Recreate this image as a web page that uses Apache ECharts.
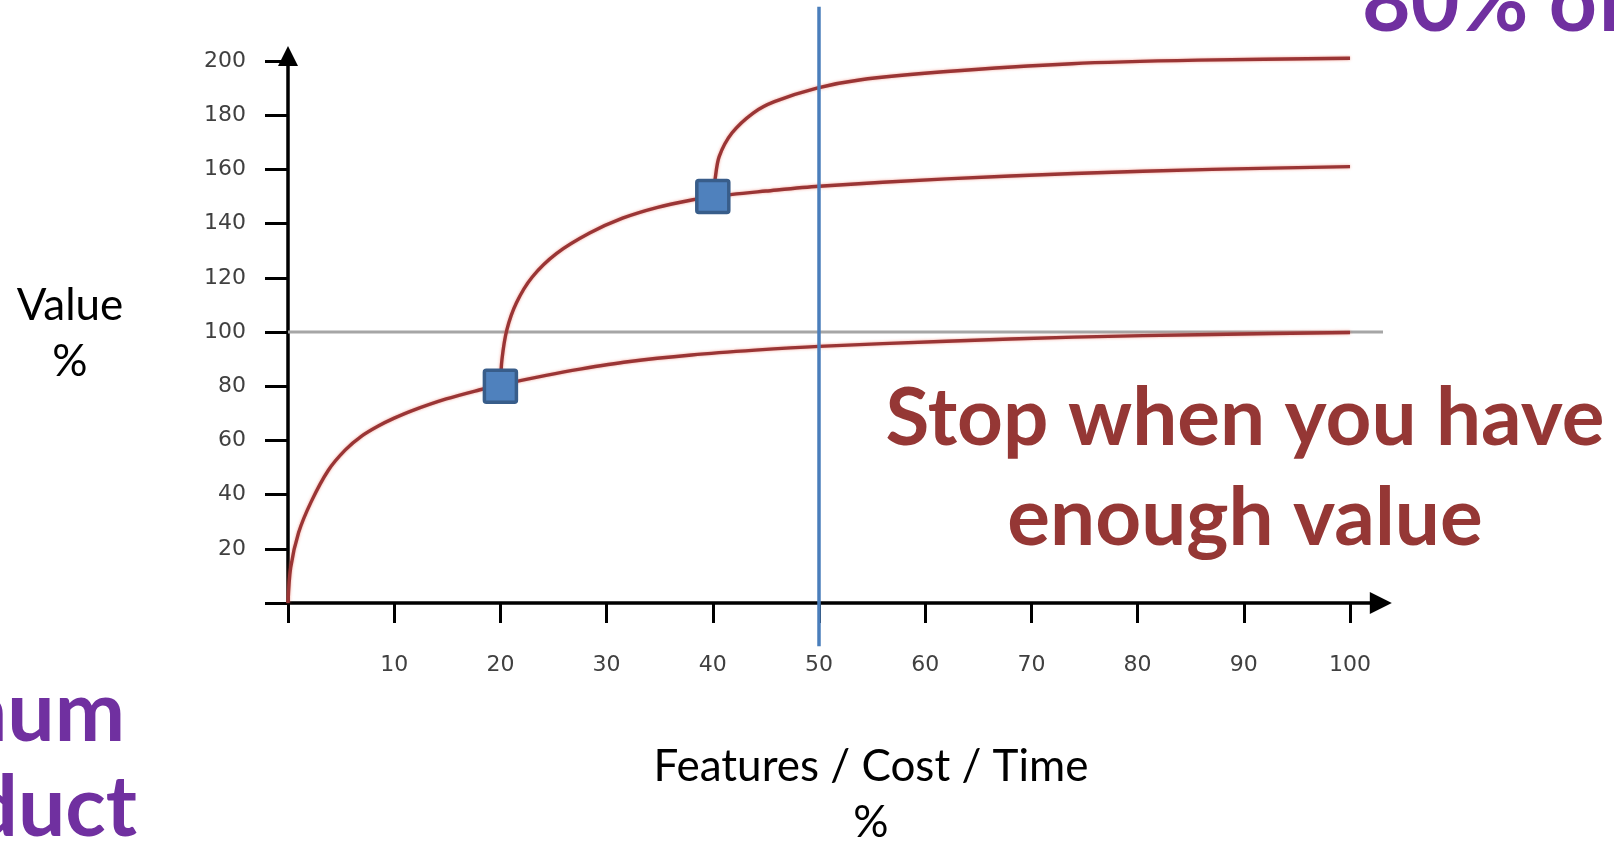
<!DOCTYPE html>
<html>
<head>
<meta charset="utf-8">
<script src="https://cdn.jsdelivr.net/npm/echarts@6/dist/echarts.min.js"></script>
<style>
html,body{margin:0;padding:0;background:#fff;}
#chart{width:1614px;height:841px;}
</style>
</head>
<body>
<div id="chart"></div>
<script>
// ---- data ----
const xTickValues = [0, 10, 20, 30, 40, 50, 60, 70, 80, 90, 100];
const xLabelValues = [10, 20, 30, 40, 50, 60, 70, 80, 90, 100];
const yTickValues = [0, 20, 40, 60, 80, 100, 120, 140, 160, 180, 200];
const yLabelValues = [20, 40, 60, 80, 100, 120, 140, 160, 180, 200];

const baseX = [0, 0.25, 1, 2.2, 3.8, 5.4, 6.9, 8.5, 10, 11.7, 14.9, 18, 20, 24.3, 27.5, 32, 38, 44, 50, 62, 74, 87, 100];
const baseY = [0, 13, 26, 37.5, 49, 56.5, 61.5, 65.3, 68.2, 71, 75.3, 78.6, 80.5, 84, 86.3, 89, 91.5, 93.3, 94.7, 96.6, 98.1, 99.1, 99.8];

const midX = [20, 20.15, 20.6, 21.5, 23, 25.3, 28.4, 31.5, 34.8, 38, 40, 45, 50, 62, 74, 87, 100];
const midY = [80.5, 90, 100.7, 110.7, 120.3, 129, 136.5, 142, 146, 148.7, 150, 152, 153.8, 156.5, 158.5, 160, 161];

const topX = [40, 40.2, 40.6, 41.8, 43.8, 45.8, 49.8, 53.8, 61.7, 73.8, 85.7, 100];
const topY = [150, 156, 164.7, 173.4, 180.8, 185, 190, 193, 196, 199, 200.3, 201];

const markerX = [20, 40];
const markerY = [80, 150];

const goalValue = 100;          // grey horizontal line
const goalLineX = [0, 104.3];
const cutoffX = 50;             // blue vertical line
const cutoffY = [220, -16];

const yTitle = ['Value', '%'];
const xTitle = ['Features / Cost / Time', '%'];
const noteLines = ['Stop when you have', 'enough value'];
const leftLines = ['Minimum', 'Viable Product'];
const topRightText = '80% of';

// ---- build ----
const zip = (xs, ys) => xs.map((x, i) => [x, ys[i]]);
const curveStyle = {
  color: '#9a3535', width: 3.4,
  shadowColor: 'rgba(235,100,80,0.6)', shadowBlur: 3
};
const markerPath = 'path://M2,0 L30,0 Q32,0 32,2 L32,30 Q32,32 30,32 L2,32 Q0,32 0,30 L0,2 Q0,0 2,0 Z';
const arrowPath = 'path://M10,0 L20,20 L0,20 Z';

const chart = echarts.init(document.getElementById('chart'), null, {renderer: 'canvas'});
const option = {
  backgroundColor: '#ffffff',
  animation: false,
  grid: {left: 288, top: 56.1, right: 233.2, bottom: 238, containLabel: false},
  xAxis: {
    type: 'value', min: 0, max: 102.9, interval: 10,
    splitLine: {show: false},
    axisLine: {show: true, lineStyle: {color: '#000', width: 3.5},
      symbol: ['none', arrowPath], symbolSize: [22, 22]},
    axisTick: {show: true, length: 20, lineStyle: {color: '#000', width: 3}, customValues: xTickValues},
    axisLabel: {show: true, margin: 51, color: '#404040', fontFamily: 'DejaVu Sans', fontSize: 22,
      customValues: xLabelValues}
  },
  yAxis: {
    type: 'value', min: 0, max: 201.8, interval: 20,
    splitLine: {show: false},
    axisLine: {show: true, lineStyle: {color: '#000', width: 3.5},
      symbol: ['none', arrowPath], symbolSize: [23, 20]},
    axisTick: {show: true, length: 23, lineStyle: {color: '#000', width: 3}, customValues: yTickValues},
    axisLabel: {show: true, margin: 42, color: '#404040', fontFamily: 'DejaVu Sans', fontSize: 22,
      customValues: yLabelValues}
  },
  series: [
    {type: 'line', name: 'goal', data: zip(goalLineX, goalLineX.map(() => goalValue)),
      showSymbol: false, clip: false, z: 1, lineStyle: {color: '#a6a6a6', width: 3}},
    {type: 'line', name: 'base', data: zip(baseX, baseY), smooth: 0.3,
      showSymbol: false, z: 3, lineStyle: curveStyle},
    {type: 'line', name: 'mid', data: zip(midX, midY), smooth: 0.3,
      showSymbol: false, z: 3, lineStyle: curveStyle},
    {type: 'line', name: 'top', data: zip(topX, topY), smooth: 0.3,
      showSymbol: false, z: 3, lineStyle: curveStyle},
    {type: 'line', name: 'cutoff', data: zip(cutoffY.map(() => cutoffX), cutoffY),
      showSymbol: false, clip: false, z: 4, lineStyle: {color: '#4a7ebb', width: 3.5}},
    {type: 'scatter', name: 'markers', data: zip(markerX, markerY), symbol: markerPath, symbolSize: 32,
      z: 5, itemStyle: {color: '#4f81bd', borderColor: '#385d8a', borderWidth: 3.5, opacity: 1}}
  ],
  graphic: [
    {type: 'text', x: 70, y: 306, style: {text: yTitle[0], font: '44px Lato', fill: '#000', align: 'center', verticalAlign: 'middle'}},
    {type: 'text', x: 70, y: 362, style: {text: yTitle[1], font: '44px Lato', fill: '#000', align: 'center', verticalAlign: 'middle'}},
    {type: 'text', x: 871, y: 767, style: {text: xTitle[0], font: '44px Lato', fill: '#000', align: 'center', verticalAlign: 'middle'}},
    {type: 'text', x: 871, y: 823, style: {text: xTitle[1], font: '44px Lato', fill: '#000', align: 'center', verticalAlign: 'middle'}},
    {type: 'text', x: 1245, y: 379, style: {text: noteLines[0], font: 'bold 80px Lato', fill: '#953735', align: 'center', verticalAlign: 'top'}},
    {type: 'text', x: 1245, y: 479, style: {text: noteLines[1], font: 'bold 80px Lato', fill: '#953735', align: 'center', verticalAlign: 'top'}},
    {type: 'text', x: 125, y: 672, style: {text: leftLines[0], font: 'bold 84px Lato', fill: '#7030a0', align: 'right', verticalAlign: 'top'}},
    {type: 'text', x: 137, y: 767, style: {text: leftLines[1], font: 'bold 84px Lato', fill: '#7030a0', align: 'right', verticalAlign: 'top'}},
    {type: 'text', x: 1362, y: -38, style: {text: topRightText, font: 'bold 84px Lato', fill: '#7030a0', align: 'left', verticalAlign: 'top'}}
  ]
};
chart.setOption(option);
</script>
</body>
</html>
